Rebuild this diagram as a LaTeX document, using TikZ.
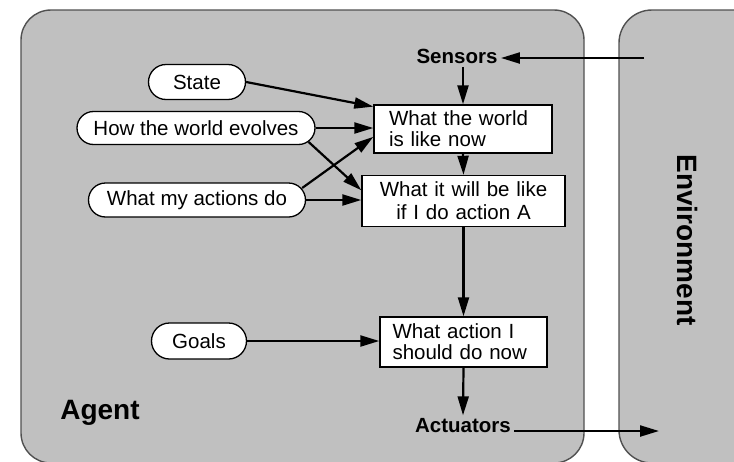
\documentclass[tikz,border=0pt]{standalone}
\usepackage{fontspec}
\setmainfont{Liberation Sans}
\usetikzlibrary{arrows.meta,shapes.misc}
\definecolor{panelgray}{RGB}{192,192,192}
\definecolor{bordergray}{RGB}{80,80,80}
\begin{document}
\begin{tikzpicture}[x=1pt,y=-1pt,
  panel/.style={fill=panelgray, draw=bordergray, line width=1.4pt, rounded corners=30pt},
  pill/.style={rounded rectangle, draw=black, fill=white, line width=1.3pt, inner xsep=0pt, inner ysep=0pt, font=\fontsize{20.5}{21}\selectfont},
  box/.style={rectangle, draw=black, fill=white, line width=1.4pt, inner sep=0pt, font=\fontsize{20.5}{21}\selectfont},
  lbl/.style={font=\bfseries\fontsize{20.5}{21}\selectfont},
  biglbl/.style={font=\bfseries\fontsize{28}{30}\selectfont},
  arr/.style={-{Triangle[length=19pt,width=11pt]}, line width=2.2pt}
]
\useasboundingbox (0,0) rectangle (734,461);
\clip (0,0) rectangle (734,461);
% panels
\draw[panel] (21,10) rectangle (584,463);
\draw[panel, rounded corners=33pt] (619,10) rectangle (780,463);
% labels
\node[biglbl] (agent) at (100,413) {Agent};
\node[biglbl, rotate=-90] (env) at (688,240) {Environment};
\node[lbl] (sens) at (457,56) {Sensors};
\node[lbl] (act) at (463,426) {Actuators};
\coordinate (envin) at (644,58);
\coordinate (envout) at (659,431);
% pills
\node[pill, minimum width=97pt, minimum height=35pt] (state) at (197,82) {State};
\node[pill, minimum width=238pt, minimum height=33pt] (how) at (196,128) {How the world evolves};
\node[pill, minimum width=217pt, minimum height=34pt] (what) at (197,200) {What my actions do};
\node[pill, minimum width=95pt, minimum height=36pt] (goals) at (199,341) {Goals};
% boxes
\node[box, minimum width=178pt, minimum height=48pt, text width=148pt, align=left] (b1) at (463,129) {What the world\\is like now};
\node[box, minimum width=203pt, minimum height=51pt, text width=185pt, align=center, font=\fontsize{20.5}{23}\selectfont] (b2) at (463.5,201) {What it will be like\\if I do action A};
\node[box, minimum width=167pt, minimum height=50pt, text width=142pt, align=left] (b3) at (463.5,342) {What action I\\should do now};
% arrows
\draw[arr] (envin) -- (envin -| sens.east);
\draw[arr] (b1.north |- sens.south) -- (b1.north);
\draw[arr] (b1.south) -- (b2.north);
\draw[arr] (b2.south) -- (b3.north);
\draw[arr] (b3.south) -- (act.north);
\draw[arr] ([yshift=-5pt]act.east) -- (envout);
\draw[arr] (state.east) -- (b1.166);
\draw[arr] (how.east) -- (how.east -| b1.west);
\draw[arr] ([xshift=-7pt,yshift=-14pt]how.east) -- (b2.174);
\draw[arr] ([xshift=-4pt,yshift=12pt]what.east) -- (b1.185);
\draw[arr] (what.east) -- (what.east -| b2.west);
\draw[arr] (goals.east) -- (goals.east -| b3.west);
\end{tikzpicture}
\end{document}
